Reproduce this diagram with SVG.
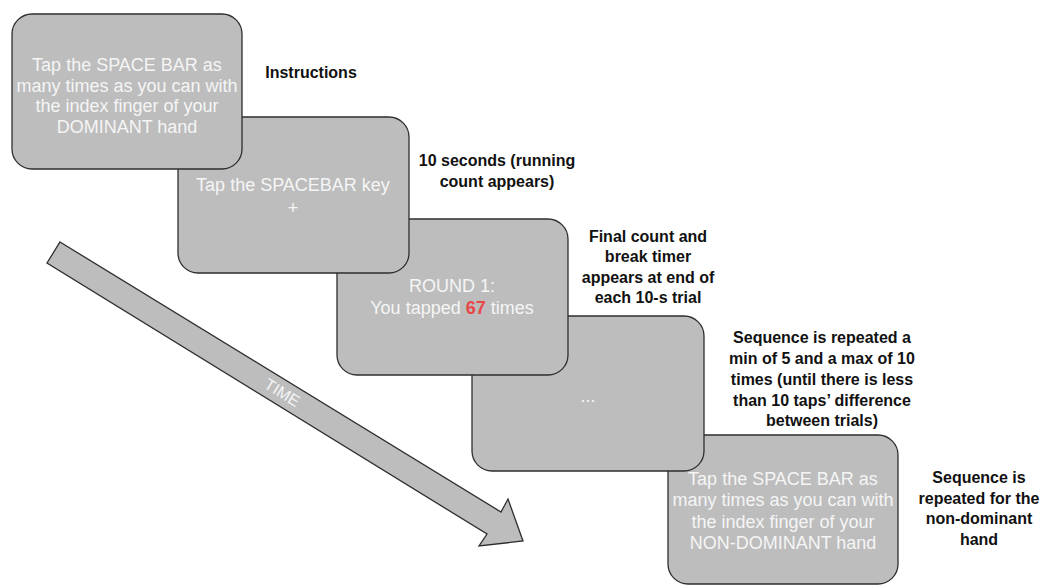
<svg xmlns="http://www.w3.org/2000/svg" width="1040" height="586" viewBox="0 0 1040 586">
<style>
.box{fill:#bdbdbd;stroke:#2e2e2e;stroke-width:1.3}
.bt{font-family:"Liberation Sans",Arial,sans-serif;font-size:18px;fill:#f5f5f5;text-anchor:middle}
.lbl{font-family:"Liberation Sans",Arial,sans-serif;font-size:16px;font-weight:bold;fill:#111;text-anchor:middle}
.red{fill:#e8474a;font-weight:bold}
</style>
<rect width="1040" height="586" fill="#ffffff"/>
<g id="connectors">
<g id="time-arrow">
<polygon class="box" points="60,242 501,512 508,499 523,541 479,546 487,534 47,263"/>
<text class="bt" style="font-size:16px" transform="translate(282,393) rotate(31.5)" y="5">TIME</text>
</g>
</g>
<g id="node-5">
<rect class="box" x="668" y="435" width="230" height="149" rx="20"/>
<text class="bt" x="783" y="485">Tap the SPACE BAR as</text>
<text class="bt" x="783" y="506">many times as you can with</text>
<text class="bt" x="783" y="528">the index finger of your</text>
<text class="bt" x="783" y="549">NON-DOMINANT hand</text>
</g>
<g id="node-4">
<rect class="box" x="472" y="316" width="232" height="155" rx="20"/>
<text class="bt" x="588" y="402">...</text>
</g>
<g id="node-3">
<rect class="box" x="337" y="219" width="231" height="156" rx="20"/>
<text class="bt" x="452" y="292">ROUND 1:</text>
<text class="bt" x="452" y="314">You tapped <tspan class="red">67</tspan> times</text>
</g>
<g id="node-2">
<rect class="box" x="178" y="117" width="231" height="156" rx="20"/>
<text class="bt" x="293" y="191">Tap the SPACEBAR key</text>
<text class="bt" x="293" y="214">+</text>
</g>
<g id="node-1">
<rect class="box" x="12" y="14" width="230" height="155" rx="20"/>
<text class="bt" x="127" y="71">Tap the SPACE BAR as</text>
<text class="bt" x="127" y="92">many times as you can with</text>
<text class="bt" x="127" y="112">the index finger of your</text>
<text class="bt" x="127" y="133">DOMINANT hand</text>
</g>
<g id="label-instructions">
<text class="lbl" x="311" y="78">Instructions</text>
</g>
<g id="label-10s">
<text class="lbl" x="497" y="166">10 seconds (running</text>
<text class="lbl" x="497" y="187">count appears)</text>
</g>
<g id="label-final">
<text class="lbl" x="648" y="242">Final count and</text>
<text class="lbl" x="648" y="262">break timer</text>
<text class="lbl" x="648" y="283">appears at end of</text>
<text class="lbl" x="648" y="303">each 10-s trial</text>
</g>
<g id="label-sequence">
<text class="lbl" x="822" y="343">Sequence is repeated a</text>
<text class="lbl" x="822" y="364">min of 5 and a max of 10</text>
<text class="lbl" x="822" y="385">times (until there is less</text>
<text class="lbl" x="822" y="406">than 10 taps’ difference</text>
<text class="lbl" x="822" y="426">between trials)</text>
</g>
<g id="label-nondominant">
<text class="lbl" x="979" y="483">Sequence is</text>
<text class="lbl" x="979" y="504">repeated for the</text>
<text class="lbl" x="979" y="524">non-dominant</text>
<text class="lbl" x="979" y="545">hand</text>
</g>
</svg>
